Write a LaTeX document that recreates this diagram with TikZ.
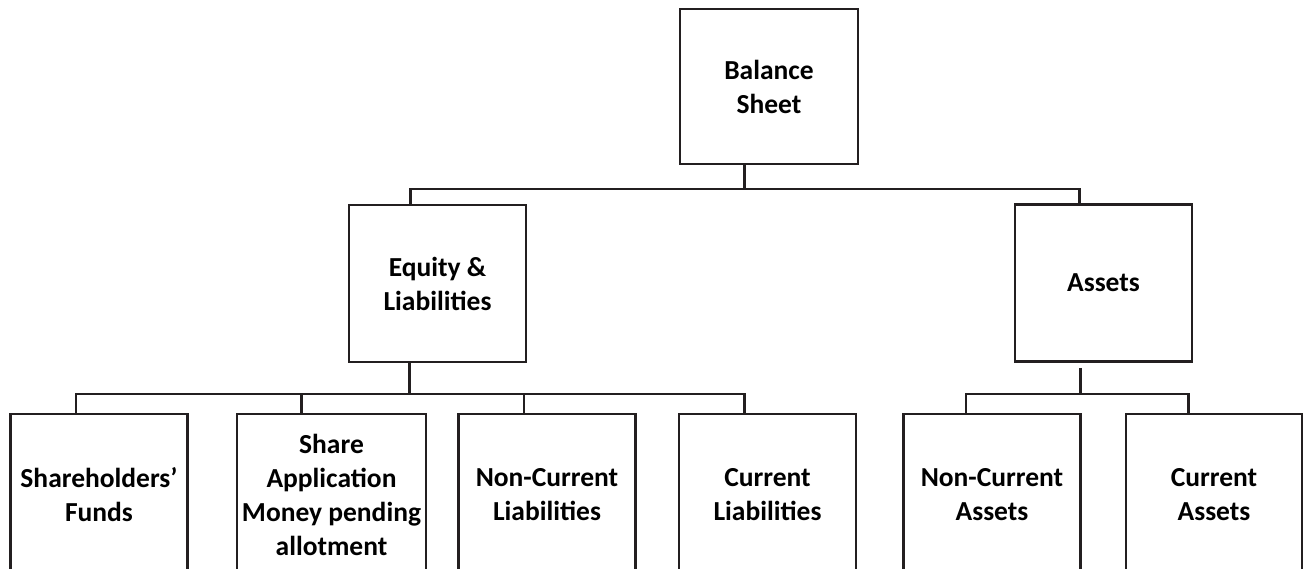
\documentclass[tikz,border=0pt]{standalone}
\usepackage{fontspec}
\setmainfont{Carlito}
\usepackage{tikz}
\usetikzlibrary{positioning, calc}
\usepackage{xcolor}
\definecolor{inkline}{HTML}{231F20}

\tikzset{
  sheetbox/.style={draw=inkline, line width=2.7pt, fill=white, inner sep=0pt,
    minimum width=177pt, minimum height=157pt, align=center,
    font=\bfseries\fontsize{27.5}{34}\selectfont},
  leafbox/.style={sheetbox, minimum height=161pt},
  link/.style={draw=inkline, line width=2.4pt},
}

\begin{document}
\begin{tikzpicture}[x=1pt, y=-1pt]
  \useasboundingbox (0,0) rectangle (1303,568);
  \clip (0,0) rectangle (1303,568);

  % top level
  \node[sheetbox, minimum width=178pt, minimum height=155pt] (bs) at (769,86.5) {Balance\\Sheet};

  % second level
  \node[sheetbox] (el) at (437.5,283.5) {Equity \&\\Liabilities};
  \node[sheetbox] (as) at (1103.5,283) {Assets};

  % third level
  \node[leafbox] (sf) at (99,494.5) {Shareholders’\\Funds};
  \node[leafbox, minimum width=189pt] (sam) at (331.5,494.5) {Share\\Application\\Money pending\\allotment};
  \node[leafbox] (ncl) at (547,494.5) {Non-Current\\Liabilities};
  \node[leafbox] (cl) at (767.5,494.5) {Current\\Liabilities};
  \node[leafbox] (nca) at (992,494.5) {Non-Current\\Assets};
  \node[leafbox, minimum width=176pt] (ca) at (1214,494.5) {Current\\Assets};

  % bus levels
  \coordinate (topbus) at (0,189);
  \coordinate (lowbus) at (0,394);

  % connector points (stems sit left of box centres)
  \coordinate (bs-out) at ([xshift=66pt]bs.south west);
  \coordinate (el-in) at ([xshift=63pt]el.north west);
  \coordinate (el-out) at ([xshift=62pt]el.south west);
  \coordinate (as-in) at ([xshift=66pt]as.north west);
  \coordinate (as-out) at ([xshift=67pt, yshift=-5pt]as.south west);
  \coordinate (sf-in) at ([xshift=67pt]sf.north west);
  \coordinate (sam-in) at ([xshift=66pt]sam.north west);
  \coordinate (ncl-in) at ([xshift=67pt]ncl.north west);
  \coordinate (cl-in) at ([xshift=67pt]cl.north west);
  \coordinate (nca-in) at ([xshift=64pt]nca.north west);
  \coordinate (ca-in) at ([xshift=64pt]ca.north west);

  % balance sheet -> equity / assets
  \draw[link] (bs-out) -- (bs-out |- topbus);
  \draw[link] (el-in) |- (as-in |- topbus) -- (as-in);

  % equity & liabilities -> its four heads
  \draw[link] (el-out) -- (el-out |- lowbus);
  \draw[link] (sf-in) |- (cl-in |- lowbus) -- (cl-in);
  \draw[link] (sam-in) -- (sam-in |- lowbus);
  \draw[link] (ncl-in) -- (ncl-in |- lowbus);

  % assets -> its two heads
  \draw[link] (as-out) -- (as-out |- lowbus);
  \draw[link] (nca-in) |- (ca-in |- lowbus) -- (ca-in);
\end{tikzpicture}
\end{document}
